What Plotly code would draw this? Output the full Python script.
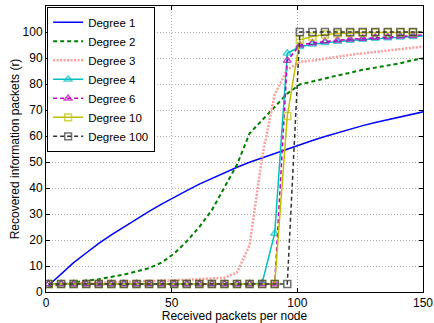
import plotly.graph_objects as go

# sample positions (received packets per node)
x_pts = [1, 6, 11, 16, 21, 26, 31, 36, 41, 46, 51, 56, 61, 66, 71, 76, 81, 86, 91, 96,
         101, 106, 111, 116, 121, 126, 131, 136, 141, 146, 151]

deg1 = [2.5, 7.0, 11.3, 15.0, 18.7, 22.0, 25.1, 28.1, 31.0, 33.8, 36.5, 39.0, 41.5, 43.7, 45.9, 48.0,
        49.9, 51.6, 53.3, 55.1, 56.8, 58.3, 59.8, 61.3, 62.7, 64.0, 65.2, 66.3, 67.4, 68.5, 69.5]
deg2 = [2.0, 3.0, 3.6, 4.4, 4.9, 5.7, 6.7, 7.9, 9.2, 11.3, 14.8, 19.5, 25.0, 31.5, 40.0, 49.0,
        61.0, 66.0, 71.0, 76.3, 79.8, 81.0, 82.3, 83.3, 84.3, 85.5, 86.3, 87.2, 88.0, 89.2, 90.0]
deg3 = [3.0, 3.2, 3.4, 3.5, 3.6, 3.8, 3.9, 4.0, 4.2, 4.3, 4.5, 4.7, 4.9, 5.1, 5.5, 7.5,
        18.0, 52.0, 76.0, 85.5, 88.5, 89.0, 89.8, 90.5, 91.2, 91.8, 92.4, 93.0, 93.5, 94.0, 94.5]
deg4 = [3.1, 3.1, 3.1, 3.1, 3.1, 3.1, 3.1, 3.1, 3.1, 3.1, 3.1, 3.1, 3.1, 3.1, 3.1, 3.1,
        3.1, 3.5, 22.5, 91.8, 94.3, 95.3, 95.9, 96.3, 96.7, 97.1, 97.5, 97.7, 98.0, 98.2, 98.5]
deg6 = [3.1, 3.1, 3.1, 3.1, 3.1, 3.1, 3.1, 3.1, 3.1, 3.1, 3.1, 3.1, 3.1, 3.1, 3.1, 3.1,
        3.1, 3.1, 3.1, 89.0, 94.9, 95.8, 96.4, 96.8, 97.2, 97.5, 97.9, 98.1, 98.4, 98.6, 98.9]
deg10 = [3.1, 3.1, 3.1, 3.1, 3.1, 3.1, 3.1, 3.1, 3.1, 3.1, 3.1, 3.1, 3.1, 3.1, 3.1, 3.1,
         3.1, 3.1, 3.1, 67.7, 97.0, 98.3, 99.0, 99.4, 99.6, 99.7, 99.8, 99.8, 99.8, 99.8, 99.8]
deg100 = [3.1, 3.1, 3.1, 3.1, 3.1, 3.1, 3.1, 3.1, 3.1, 3.1, 3.1, 3.1, 3.1, 3.1, 3.1, 3.1,
          3.1, 3.1, 3.1, 3.1, 100.0, 100.0, 100.0, 100.0, 100.0, 100.0, 100.0, 100.0, 100.0, 100.0, 100.0]

series = [
    ("Degree 1", deg1, "#0000FF", "solid", 1.5, None),
    ("Degree 2", deg2, "#008000", "4px,3px", 2, None),
    ("Degree 3", deg3, "#FF9C9C", "2px,1.5px", 2.5, None),
    ("Degree 4", deg4, "#00BFBF", "solid", 1.5, "triangle-up-open"),
    ("Degree 6", deg6, "#BF00BF", "4px,3px", 1.5, "triangle-up-open"),
    ("Degree 10", deg10, "#BFBF00", "solid", 1.5, "square-open"),
    ("Degree 100", deg100, "#333333", "4px,3px", 1.5, "square-open"),
]

# marker sizes: last sample lies past the axis end, so no marker there
marker_sizes = [7] * (len(x_pts) - 1) + [0]

fig = go.Figure()
for name, y, color, dash, width, symbol in series:
    kw = dict(mode="lines")
    if symbol:
        kw = dict(mode="lines+markers",
                  marker=dict(symbol=symbol, size=marker_sizes, color=color,
                              line=dict(color=color, width=1.5)))
    fig.add_trace(go.Scatter(x=x_pts, y=y, name=name,
                             line=dict(color=color, dash=dash, width=width), **kw))

font = dict(family="Liberation Sans, Arial, sans-serif", size=12, color="#000000")
axis_common = dict(showgrid=True, gridcolor="#B4B4B4", griddash="1px,2px", gridwidth=1,
                   ticks="inside", ticklen=4, tickcolor="#000000", mirror="ticks",
                   showline=True, linecolor="#000000", linewidth=1, zeroline=False,
                   tickfont=font, automargin=False)

fig.update_layout(
    width=434, height=323,
    margin=dict(l=46, r=11, t=6, b=31),
    paper_bgcolor="#FFFFFF", plot_bgcolor="#FFFFFF",
    font=font,
    showlegend=True,
    legend=dict(x=0.003, y=0.997, xanchor="left", yanchor="top",
                bgcolor="#FFFFFF", bordercolor="#000000", borderwidth=1,
                font=dict(family="Liberation Sans, Arial, sans-serif", size=11.5),
                tracegroupgap=0, itemwidth=30),
    xaxis=dict(range=[0, 150], dtick=50, tick0=0,
               title=dict(text="Received packets per node", font=font, standoff=0),
               **axis_common),
    yaxis=dict(range=[0, 110], dtick=10, tick0=0,
               title=dict(text="Recovered information packets (r)", font=font, standoff=0),
               **axis_common),
)

fig.write_html("out.html", config={"displayModeBar": False},
               post_script="document.body.style.margin='0px';")
